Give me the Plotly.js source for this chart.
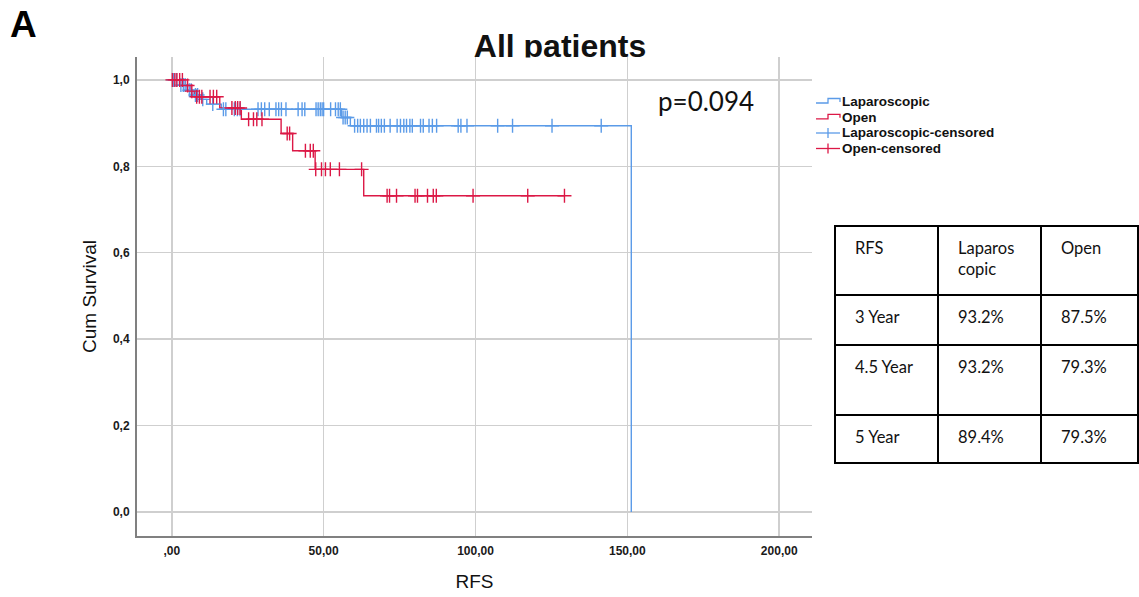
<!DOCTYPE html>
<html>
<head>
<meta charset="utf-8">
<script src="https://cdn.plot.ly/plotly-3.0.1.min.js"></script>
<style>html,body{margin:0;padding:0;background:#fff;}#chart{width:1139px;height:597px;}</style>
</head>
<body>
<div id="chart"></div>
<script>
// ---- data ----
const lapEventT = [2.5, 5.0, 7.0, 9.5, 11.5, 16.3, 55.9, 58.8, 151.3];
const lapEventS = [0.988, 0.976, 0.965, 0.955, 0.944, 0.932, 0.913, 0.894, 0.0];
const lapCensorT = [0.5, 1.5, 3.0, 3.8, 4.4, 5.8, 6.4, 7.8, 8.5, 10.2, 13.5, 17.0, 17.8, 20.6, 21.6, 22.5,
  28.4, 29.5, 30.6, 32.1, 34.3, 35.2, 36.1, 37.6, 41.6, 42.9, 43.8, 47.5, 48.2, 48.9, 49.5, 50.0,
  52.3, 53.9, 54.8, 55.5, 56.4, 57.1, 57.8, 60.2, 61.2, 62.1, 63.2, 64.3, 65.4, 67.4, 68.1, 69.0,
  70.0, 71.9, 74.2, 75.3, 76.4, 77.3, 78.4, 79.2, 81.9, 82.8, 84.7, 85.8, 87.2, 94.3, 95.2, 97.2,
  107.3, 112.2, 125.2, 141.4];

const openEventT = [4.5, 6.0, 7.5, 15.8, 22.9, 36.0, 39.8, 47.2, 63.2];
const openEventS = [0.987, 0.974, 0.961, 0.935, 0.909, 0.876, 0.836, 0.793, 0.732];
const openCensorT = [0.2, 1.0, 1.7, 2.6, 3.5, 5.2, 6.6, 8.2, 9.1, 9.9, 12.6, 13.7, 14.8, 19.8, 20.9,
  21.7, 22.5, 25.3, 26.9, 28.0, 29.7, 38.0, 38.8, 44.0, 45.6, 46.6, 47.4, 49.3, 50.6, 52.2, 55.2,
  62.5, 70.9, 71.7, 74.0, 80.1, 80.9, 84.2, 86.1, 87.1, 99.2, 117.2, 129.3];

const groupNames = ["Laparoscopic", "Open"];
const legendLabels = ["Laparoscopic", "Open", "Laparoscopic-censored", "Open-censored"];
const xTickVals = [0, 50, 100, 150, 200];
const xTickText = [",00", "50,00", "100,00", "150,00", "200,00"];
const yTickVals = [0, 0.2, 0.4, 0.6, 0.8, 1.0];
const yTickText = ["0,0", "0,2", "0,4", "0,6", "0,8", "1,0"];
const pValueText = "p=0.094";
const tableHeader = ["RFS", "Laparos<br>copic", "Open"];
const tableRowLabels = ["3 Year", "4.5 Year", "5 Year"];
const tableLap = ["93.2%", "93.2%", "89.4%"];
const tableOpen = ["87.5%", "79.3%", "79.3%"];

// ---- helpers ----
const BLUE = "#5b9be8", RED = "#dc1846";
function survAt(evT, evS, t) {
  let s = 1;
  for (let i = 0; i < evT.length; i++) { if (evT[i] <= t) s = evS[i]; }
  return s;
}
function stepLine(evT, evS, endT) {
  const x = [0].concat(evT), y = [1].concat(evS);
  if (endT > evT[evT.length - 1]) { x.push(endT); y.push(evS[evS.length - 1]); }
  return {x, y};
}
const lapLine = stepLine(lapEventT, lapEventS, Math.max(...lapCensorT));
const openLine = stepLine(openEventT, openEventS, Math.max(...openCensorT));

const traces = [
  {type: "scatter", mode: "lines", name: groupNames[0], x: lapLine.x, y: lapLine.y,
   line: {shape: "hv", color: BLUE, width: 1.4}, showlegend: false, hoverinfo: "skip"},
  {type: "scatter", mode: "lines", name: groupNames[1], x: openLine.x, y: openLine.y,
   line: {shape: "hv", color: RED, width: 1.4}, showlegend: false, hoverinfo: "skip"},
  {type: "scatter", mode: "markers", name: groupNames[0] + "-censored", x: lapCensorT,
   y: lapCensorT.map(t => survAt(lapEventT, lapEventS, t)),
   marker: {symbol: "cross-thin", size: 10, line: {color: BLUE, width: 1.4}}, showlegend: false, hoverinfo: "skip"},
  {type: "scatter", mode: "markers", name: groupNames[1] + "-censored", x: openCensorT,
   y: openCensorT.map(t => survAt(openEventT, openEventS, t)),
   marker: {symbol: "cross-thin", size: 10, line: {color: RED, width: 1.4}}, showlegend: false, hoverinfo: "skip"}
];

// ---- layout geometry (pixels) ----
const W = 1139, H = 597, L = 137, R = 812, T = 57, B = 536;
const PX = p => (p - L) / (R - L);
const PY = p => (B - p) / (B - T);

const shapes = [];
const annotations = [];

// legend (custom, SPSS style)
const legColors = [BLUE, RED, BLUE, RED];
const legRowY = [101.5, 117.3, 133.0, 148.5];
legendLabels.forEach((lab, i) => {
  const yc = legRowY[i];
  if (i < 2) {
    shapes.push({type: "path", xref: "paper", yref: "paper",
      path: `M ${PX(816)},${PY(yc + 1.5)} L ${PX(828)},${PY(yc + 1.5)} L ${PX(828)},${PY(yc - 3)} L ${PX(840)},${PY(yc - 3)} L ${PX(840)},${PY(yc + 0.5)}`,
      line: {color: legColors[i], width: 1.3}});
  } else {
    shapes.push({type: "line", xref: "paper", yref: "paper", x0: PX(816), x1: PX(840), y0: PY(yc), y1: PY(yc),
      line: {color: legColors[i], width: 1.3}});
    shapes.push({type: "line", xref: "paper", yref: "paper", x0: PX(828), x1: PX(828), y0: PY(yc - 5), y1: PY(yc + 5),
      line: {color: legColors[i], width: 1.3}});
  }
  annotations.push({xref: "paper", yref: "paper", x: PX(841), y: PY(yc), xanchor: "left", yanchor: "middle",
    text: lab, showarrow: false, borderpad: 0,
    font: {family: "Arial, 'Liberation Sans', sans-serif", size: 13.5, weight: 700, color: "#111"}});
});

// table
const tX = [835, 938, 1041, 1138];
const tY = [226, 295, 345, 415, 463];
shapes.push({type: "rect", xref: "paper", yref: "paper", x0: PX(tX[0]), x1: PX(tX[3]), y0: PY(tY[0]), y1: PY(tY[4]),
  line: {color: "#000", width: 2}, fillcolor: "rgba(0,0,0,0)"});
[tX[1], tX[2]].forEach(xp => shapes.push({type: "line", xref: "paper", yref: "paper", x0: PX(xp), x1: PX(xp),
  y0: PY(tY[0]), y1: PY(tY[4]), line: {color: "#000", width: 2}}));
[tY[1], tY[2], tY[3]].forEach(yp => shapes.push({type: "line", xref: "paper", yref: "paper", x0: PX(tX[0]), x1: PX(tX[3]),
  y0: PY(yp), y1: PY(yp), line: {color: "#000", width: 2}}));
const tableCols = [[tableHeader[0]].concat(tableRowLabels), [tableHeader[1]].concat(tableLap), [tableHeader[2]].concat(tableOpen)];
const tFont = {family: "Lato, 'Open Sans', sans-serif", size: 16.5, color: "#111"};
tableCols.forEach((col, c) => {
  col.forEach((txt, r) => {
    annotations.push({xref: "paper", yref: "paper", x: PX(tX[c] + 19), y: PY(tY[r] + 11), xanchor: "left", yanchor: "top",
      align: "left", text: txt, showarrow: false, borderpad: 0, font: tFont});
  });
});

// p value and panel letter
annotations.push({xref: "paper", yref: "paper", x: PX(657), y: PY(100.5), xanchor: "left", yanchor: "middle",
  text: pValueText, showarrow: false, borderpad: 0,
  font: {family: "Lato, 'Open Sans', sans-serif", size: 26, color: "#111"}});
annotations.push({xref: "paper", yref: "paper", x: PX(9), y: PY(24), xanchor: "left", yanchor: "middle",
  text: "A", showarrow: false, borderpad: 0,
  font: {family: "Arial, 'Liberation Sans', sans-serif", size: 37, weight: 700, color: "#000"}});
// small white strip clipping the descender of the title's "p" at the top of the plot area (as in the reference)
annotations.push({xref: "paper", yref: "paper", x: PX(538), y: PY(56.5), xanchor: "center", yanchor: "top",
  text: " ", showarrow: false, width: 30, height: 8, bgcolor: "#fff", borderpad: 0});

const tickFont = {family: "Arial, 'Liberation Sans', sans-serif", size: 12, weight: 700, color: "#1a1a1a"};
const layout = {
  width: W, height: H,
  margin: {l: L, r: W - R, t: T, b: H - B, pad: 0},
  paper_bgcolor: "#fff", plot_bgcolor: "#fff",
  showlegend: false,
  title: {text: "All patients", xref: "paper", x: PX(560), xanchor: "center",
    yref: "container", y: 1 - 57 / H, yanchor: "bottom",
    font: {family: "Arial, 'Liberation Sans', sans-serif", size: 32, weight: 700, color: "#111"}},
  xaxis: {range: [-11.45, 210.8], tickvals: xTickVals, ticktext: xTickText, tickfont: tickFont,
    showgrid: true, gridcolor: "#cfcfcf", gridwidth: 1.5, zeroline: false,
    showline: true, linecolor: "#808080", linewidth: 2, ticks: "", ticklabelstandoff: 3,
    title: {text: "RFS", standoff: 17, font: {family: "Arial, 'Liberation Sans', sans-serif", size: 19, color: "#111"}},
    fixedrange: true},
  yaxis: {range: [-0.0556, 1.053], tickvals: yTickVals, ticktext: yTickText, tickfont: tickFont,
    showgrid: true, gridcolor: "#cfcfcf", gridwidth: 1.5, zeroline: false,
    showline: true, linecolor: "#808080", linewidth: 2, ticks: "", ticklabelstandoff: 3,
    title: {text: "Cum Survival", standoff: 11, font: {family: "Arial, 'Liberation Sans', sans-serif", size: 19, color: "#111"}},
    fixedrange: true},
  shapes: shapes,
  annotations: annotations
};

Plotly.newPlot("chart", traces, layout, {staticPlot: true, displayModeBar: false});
</script>
</body>
</html>
